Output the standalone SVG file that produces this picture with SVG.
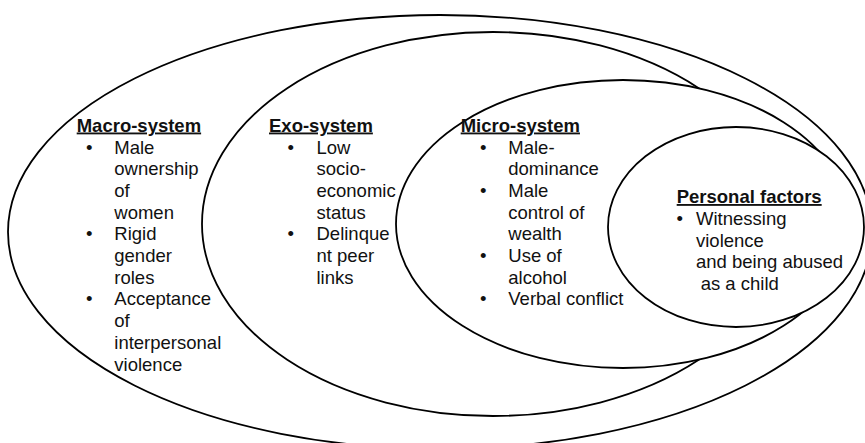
<svg xmlns="http://www.w3.org/2000/svg" width="865" height="443" viewBox="0 0 865 443">
<style>
.sys{fill:#ffffff;stroke:#000000;stroke-width:1.8}
text{font-family:"Liberation Sans",Arial,sans-serif;font-size:18.5px;fill:#111111}
.hd{font-weight:bold;text-decoration:underline}
</style>
<rect width="865" height="443" fill="#ffffff"/>
<g id="connectors"></g>
<g id="macro-system">
<ellipse class="sys" cx="440" cy="232" rx="432" ry="217"/>
<text class="hd" x="76.7" y="131.5">Macro-system</text>
<text x="86" y="153.5">•</text>
<text x="114.3" y="153.5">Male</text>
<text x="114.3" y="175.2">ownership</text>
<text x="114.3" y="196.9">of</text>
<text x="114.3" y="218.6">women</text>
<text x="86" y="240.3">•</text>
<text x="114.3" y="240.3">Rigid</text>
<text x="114.3" y="262">gender</text>
<text x="114.3" y="283.7">roles</text>
<text x="86" y="305.4">•</text>
<text x="114.3" y="305.4">Acceptance</text>
<text x="114.3" y="327.1">of</text>
<text x="114.3" y="348.8">interpersonal</text>
<text x="114.3" y="370.5">violence</text>
</g>
<g id="exo-system">
<ellipse class="sys" cx="493" cy="224" rx="291" ry="192"/>
<text class="hd" x="269" y="131.5">Exo-system</text>
<text x="287.5" y="153.5">•</text>
<text x="316.5" y="153.5">Low</text>
<text x="316.5" y="175.2">socio-</text>
<text x="316.5" y="196.9">economic</text>
<text x="316.5" y="218.6">status</text>
<text x="287.5" y="240.3">•</text>
<text x="316.5" y="240.3">Delinque</text>
<text x="316.5" y="262">nt peer</text>
<text x="316.5" y="283.7">links</text>
</g>
<g id="micro-system">
<ellipse class="sys" cx="623" cy="224" rx="227" ry="144"/>
<text class="hd" x="460.7" y="131.5">Micro-system</text>
<text x="480" y="153.5">•</text>
<text x="508.3" y="153.5">Male-</text>
<text x="508.3" y="175.2">dominance</text>
<text x="480" y="196.9">•</text>
<text x="508.3" y="196.9">Male</text>
<text x="508.3" y="218.6">control of</text>
<text x="508.3" y="240.3">wealth</text>
<text x="480" y="262">•</text>
<text x="508.3" y="262">Use of</text>
<text x="508.3" y="283.7">alcohol</text>
<text x="480" y="305.4">•</text>
<text x="508.3" y="305.4">Verbal conflict</text>
</g>
<g id="personal-factors">
<ellipse class="sys" cx="736" cy="227" rx="128" ry="100"/>
<text class="hd" x="676.7" y="203">Personal factors</text>
<text x="676.5" y="225">•</text>
<text x="696" y="225">Witnessing</text>
<text x="696" y="246.7">violence</text>
<text x="696" y="268.4">and being abused</text>
<text x="700.7" y="290.1">as a child</text>
</g>
</svg>
